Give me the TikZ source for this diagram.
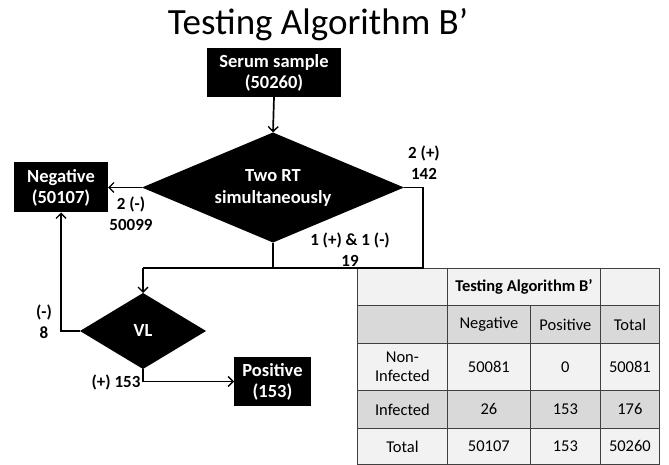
\documentclass[tikz,border=0pt]{standalone}
\usepackage{fontspec}
\setmainfont{Carlito}
\usetikzlibrary{arrows.meta,shapes.geometric}
\definecolor{rowlight}{HTML}{F2F2F2}
\definecolor{rowdark}{HTML}{D9D9D9}
\definecolor{tabline}{HTML}{404040}
\tikzset{
  blackbox/.style={rectangle, fill=black, text=white, font=\bfseries\fontsize{18.5}{21}\selectfont, align=center, inner sep=0pt, outer sep=0pt},
  decision/.style={diamond, fill=black, inner sep=0pt, outer sep=0pt},
  dtext/.style={text=white, font=\bfseries\fontsize{18.5}{22}\selectfont, align=center, inner sep=0pt},
  flow/.style={line width=1.7pt, line join=miter},
  flowarrow/.style={flow, -{Straight Barb[length=5pt,width=10pt,line width=1.4pt]}},
  lbl/.style={font=\bfseries\fontsize{17}{21}\selectfont, align=center, inner sep=0pt},
  cell/.style={rectangle, draw=tabline, line width=0.8pt, font=\fontsize{16.5}{19}\selectfont, align=center, inner sep=0pt, anchor=north west},
}
\begin{document}
\begin{tikzpicture}[x=1pt,y=-1pt]
\useasboundingbox (0,0) rectangle (669,465);
% title
\node[anchor=base, font=\fontsize{37}{42}\selectfont, inner sep=0pt] (title) at (318,35) {Testing Algorithm B’};
% flowchart nodes
\node[blackbox, minimum width=134pt, minimum height=49pt] (serum) at (274,72.5) {Serum sample\\(50260)};
\node[decision, minimum width=262pt, minimum height=110pt] (rt) at (273,187.5) {};
\node[dtext] (rttext) at (rt.center) {Two RT\\simultaneously};
\node[blackbox, minimum width=94pt, minimum height=50pt] (neg) at (61,187.5) {Negative\\(50107)};
\node[decision, minimum width=126pt, minimum height=76pt] (vl) at (143,331) {};
\node[dtext] (vltext) at (vl.center) {VL};
\node[blackbox, minimum width=77pt, minimum height=49pt] (pos) at (272.5,381.5) {Positive\\(153)};
\coordinate (jr) at (423,268);
\coordinate (jl) at (143,268);
% table
\begin{scope}
\node[cell, fill=rowlight, minimum width=90pt, minimum height=37pt] (t11) at (357,268) {};
\node[cell, fill=rowlight, minimum width=153pt, minimum height=37pt, font=\bfseries\fontsize{16.5}{19}\selectfont] (t12) at (447,268) {Testing Algorithm B’};
\node[cell, fill=rowlight, minimum width=59pt, minimum height=37pt] (t14) at (600,268) {};
\node[cell, fill=rowdark, minimum width=90pt, minimum height=38pt] (t21) at (357,305) {};
\node[cell, fill=rowdark, minimum width=83pt, minimum height=38pt] (t22) at (447,305) {Negative};
\node[cell, fill=rowdark, minimum width=70pt, minimum height=38pt] (t23) at (530,305) {Positive};
\node[cell, fill=rowdark, minimum width=59pt, minimum height=38pt] (t24) at (600,305) {Total};
\node[cell, fill=rowlight, minimum width=90pt, minimum height=47pt] (t31) at (357,343) {Non-\\Infected};
\node[cell, fill=rowlight, minimum width=83pt, minimum height=47pt] (t32) at (447,343) {50081};
\node[cell, fill=rowlight, minimum width=70pt, minimum height=47pt] (t33) at (530,343) {0};
\node[cell, fill=rowlight, minimum width=59pt, minimum height=47pt] (t34) at (600,343) {50081};
\node[cell, fill=rowdark, minimum width=90pt, minimum height=38pt] (t41) at (357,390) {Infected};
\node[cell, fill=rowdark, minimum width=83pt, minimum height=38pt] (t42) at (447,390) {26};
\node[cell, fill=rowdark, minimum width=70pt, minimum height=38pt] (t43) at (530,390) {153};
\node[cell, fill=rowdark, minimum width=59pt, minimum height=38pt] (t44) at (600,390) {176};
\node[cell, fill=rowlight, minimum width=90pt, minimum height=36pt] (t51) at (357,428) {Total};
\node[cell, fill=rowlight, minimum width=83pt, minimum height=36pt] (t52) at (447,428) {50107};
\node[cell, fill=rowlight, minimum width=70pt, minimum height=36pt] (t53) at (530,428) {153};
\node[cell, fill=rowlight, minimum width=59pt, minimum height=36pt] (t54) at (600,428) {50260};
\end{scope}
% connectors
\draw[flowarrow] (serum.south) -- (rt.north);
\draw[flowarrow] (rt.west) -- (neg.east);
\draw[flow] (rt.east) -| (jr) -- (jl);
\draw[flow] (rt.south) -- (rt.south |- jl);
\draw[flowarrow] (jl) -- (vl.north);
\draw[flowarrow] (vl.west) -| (neg.south);
\draw[flowarrow] (vl.south) |- (pos.west);
% labels
\node[lbl] (l1) at (131,214) {2 (-)\\50099};
\node[lbl] (l2) at (424,163) {2 (+)\\142};
\node[lbl] (l3) at (350,250) {1 (+) \& 1 (-)\\19};
\node[lbl] (l4) at (44,322) {(-)\\8};
\node[lbl] (l5) at (116,382) {(+) 153};
\end{tikzpicture}
\end{document}
